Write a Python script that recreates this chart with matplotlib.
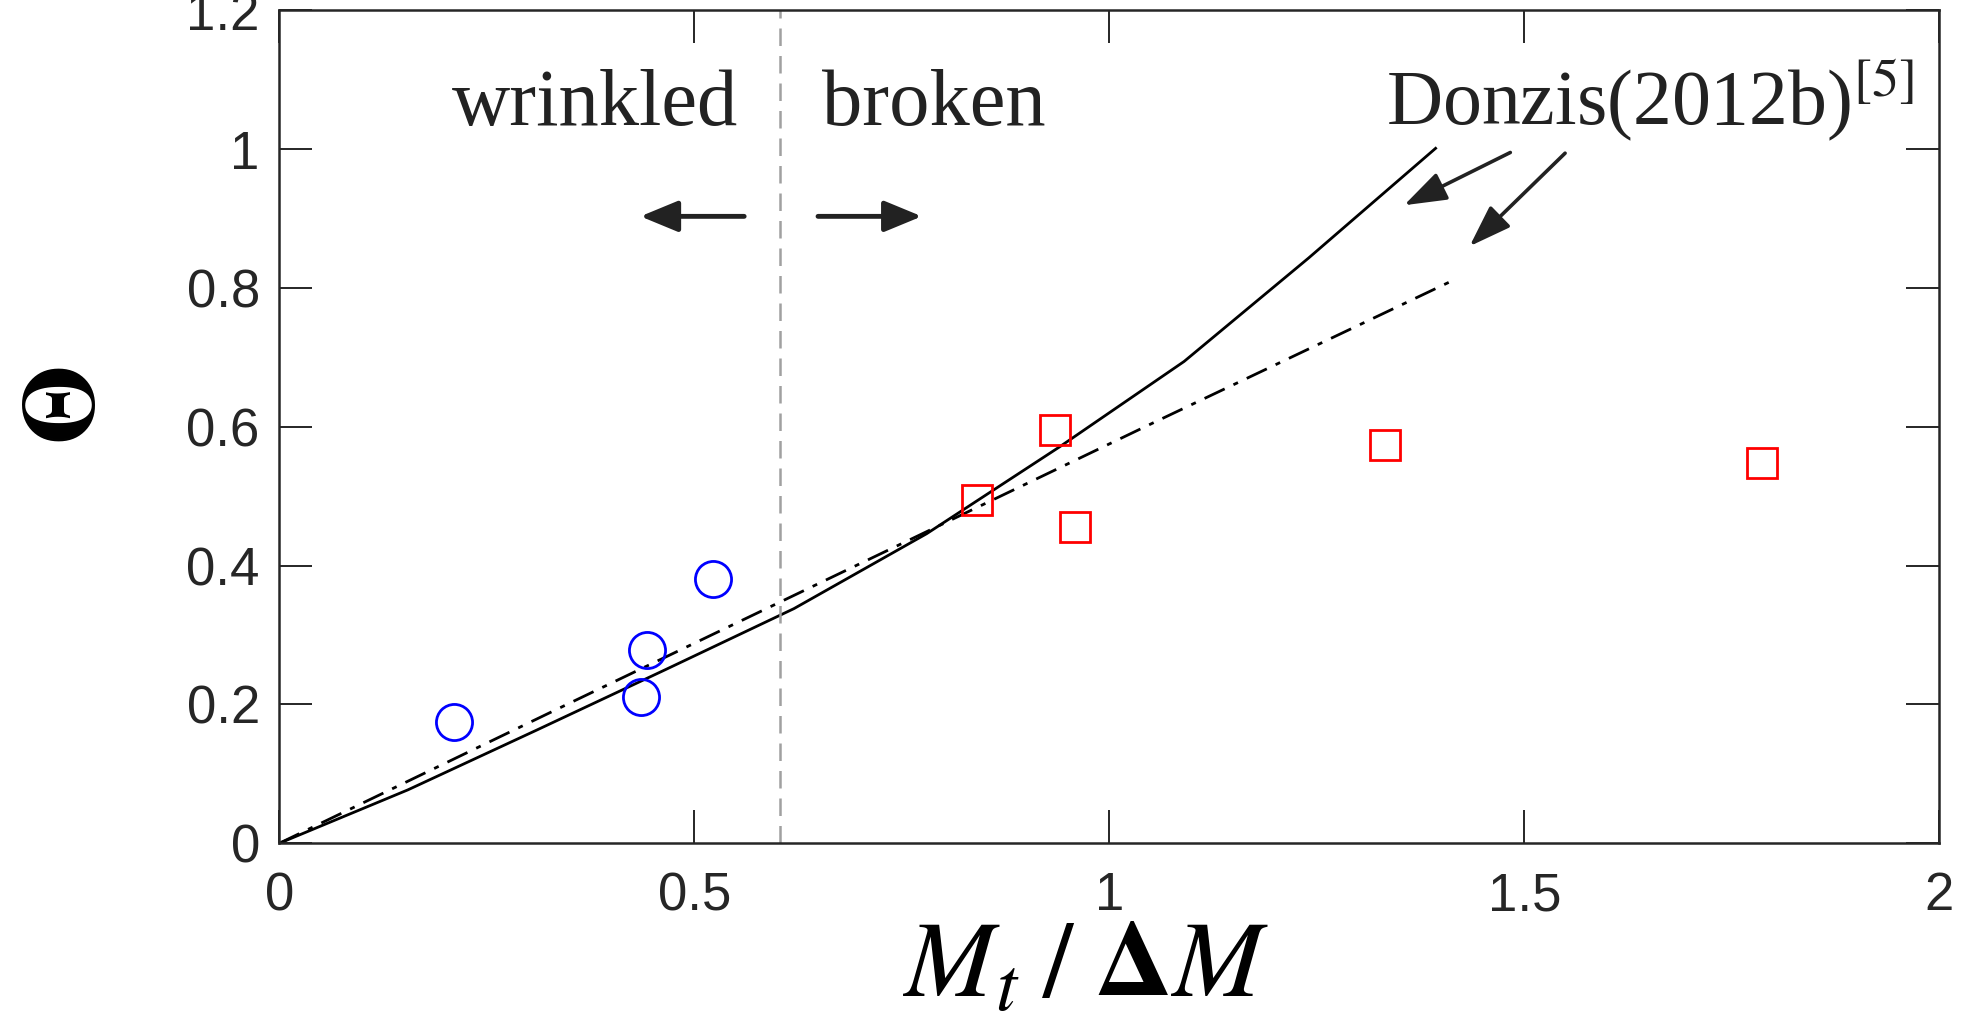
import matplotlib.pyplot as plt
import numpy as np

plt.rcParams['mathtext.fontset'] = 'stix'
plt.rcParams['font.family'] = 'Liberation Sans'

# data
wrinkled_x = [0.211, 0.436, 0.443, 0.523]
wrinkled_y = [0.175, 0.210, 0.278, 0.380]
broken_x = [0.840, 0.934, 0.959, 1.332, 1.786]
broken_y = [0.495, 0.595, 0.455, 0.573, 0.548]

donzis_solid_x = [0.0, 0.155, 0.31, 0.465, 0.62, 0.78, 0.94, 1.09, 1.24, 1.393]
donzis_solid_y = [0.0, 0.077, 0.163, 0.250, 0.338, 0.446, 0.571, 0.694, 0.843, 1.001]
donzis_dd_x = [0.0, 0.35, 0.70, 1.05, 1.409]
donzis_dd_y = [0.0, 0.202, 0.403, 0.604, 0.808]

transition = 0.603
xticks = [0, 0.5, 1, 1.5, 2]
xticklabels = ['0', '0.5', '1', '1.5', '2']
yticks = [0, 0.2, 0.4, 0.6, 0.8, 1.0, 1.2]
yticklabels = ['0', '0.2', '0.4', '0.6', '0.8', '1', '1.2']

fig = plt.figure(figsize=(19.67, 10.16), dpi=100)
ax = fig.add_axes([0.142, 0.170, 0.844, 0.820])

ax.plot(donzis_solid_x, donzis_solid_y, '-', color='k', lw=2.0)
ax.plot(donzis_dd_x, donzis_dd_y, '-.', color='k', lw=2.0, dashes=(8, 3.5, 1.8, 3.5))
ax.plot(wrinkled_x, wrinkled_y, 'o', ms=26, mfc='none', mec='blue', mew=2.0)
ax.plot(broken_x, broken_y, 's', ms=21, mfc='none', mec='red', mew=2.0)
ax.axvline(transition, color='#a0a0a0', lw=1.8, dashes=(7, 4))

serif = 'Liberation Serif'
tc = '#222222'
ax.text(0.380, 1.035, 'wrinkled', fontsize=58, family=serif, ha='center', va='baseline', color=tc)
ax.text(0.788, 1.035, 'broken', fontsize=58, family=serif, ha='center', va='baseline', color=tc)
ax.text(1.333, 1.035, r'Donzis(2012b)$^{\mathrm{[5]}}$', fontsize=56, family=serif,
        ha='left', va='baseline', color=tc)

akw = dict(arrowstyle='-|>,head_length=2.3,head_width=0.95', color=tc, lw=3.5,
           shrinkA=0, shrinkB=0)
ax.annotate('', xy=(0.435, 0.903), xytext=(0.560, 0.903), arrowprops=akw)
ax.annotate('', xy=(0.774, 0.903), xytext=(0.649, 0.903), arrowprops=akw)
akw2 = dict(arrowstyle='-|>,head_length=2.6,head_width=0.9', color=tc, lw=2.6,
            shrinkA=0, shrinkB=0)
ax.annotate('', xy=(1.355, 0.919), xytext=(1.483, 0.995), arrowprops=akw2)
ax.annotate('', xy=(1.434, 0.860), xytext=(1.549, 0.994), arrowprops=akw2)

ax.set_xlim(0, 2)
ax.set_ylim(0, 1.2)
ax.set_xticks(xticks)
ax.set_xticklabels(xticklabels)
ax.set_yticks(yticks)
ax.set_yticklabels(yticklabels)
ax.tick_params(direction='in', length=24, width=1.4, top=True, right=True,
               labelsize=38, colors='#262626')
ax.tick_params(axis='x', pad=20)
ax.tick_params(axis='y', pad=14)
for s in ax.spines.values():
    s.set_linewidth(1.8)
    s.set_color('#262626')

fig.text(0.552, 0.019, r'$M_t\;/\;\mathbf{\Delta} M$', fontsize=78, ha='center', va='baseline')
fig.text(0.035, 0.601, r'$\mathbf{\Theta}$', fontsize=74, rotation=90, ha='center', va='center')

fig.savefig('out.png', dpi=100)
